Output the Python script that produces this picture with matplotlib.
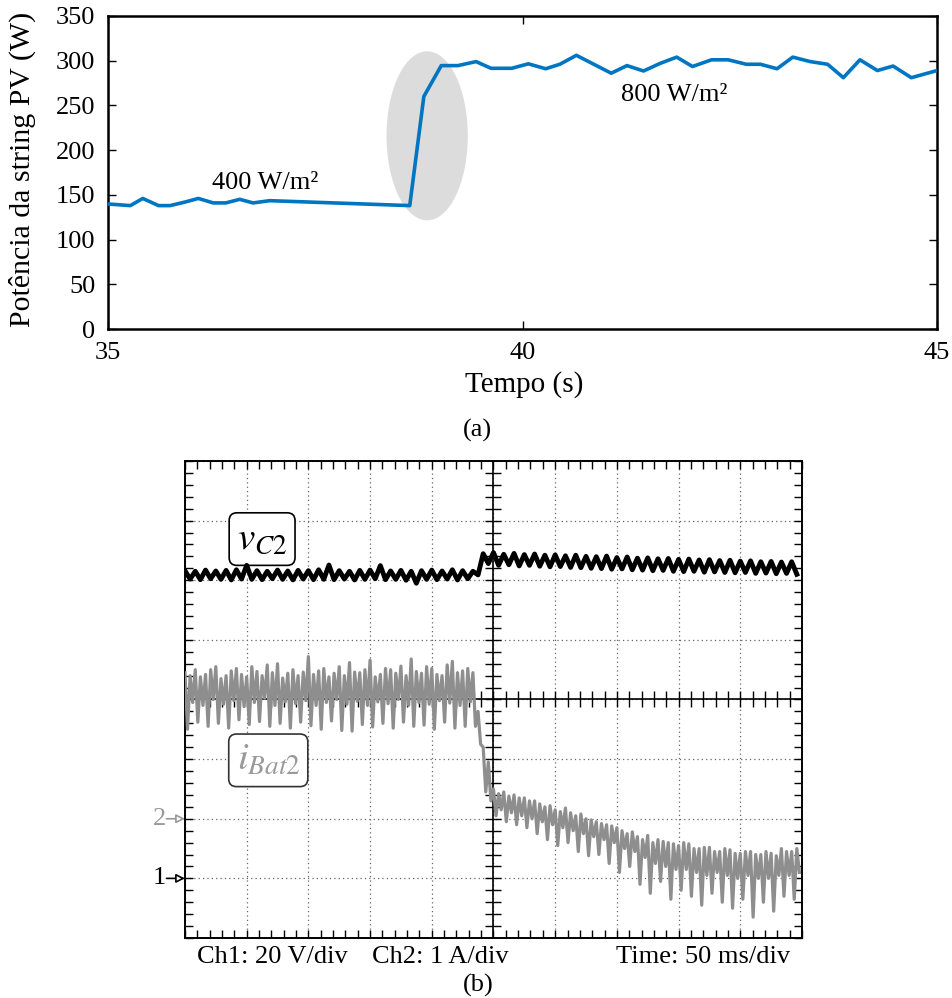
import numpy as np
import matplotlib.pyplot as plt
from matplotlib.patches import Ellipse

plt.rcParams['font.family'] = ['Liberation Serif', 'DejaVu Serif']
plt.rcParams['mathtext.fontset'] = 'stix'

# (a) PV string power
tempo = [35.0, 35.27, 35.42, 35.61, 35.75, 35.93, 36.09, 36.27, 36.42, 36.59,
         36.75, 36.95, 37.11, 38.64, 38.81, 39.02, 39.22, 39.44, 39.62, 39.87,
         40.07, 40.28, 40.45, 40.65, 40.86, 41.07, 41.26, 41.46, 41.66, 41.86,
         42.05, 42.28, 42.48, 42.70, 42.87, 43.07, 43.26, 43.47, 43.68, 43.87,
         44.07, 44.28, 44.47, 44.69, 45.0]
potencia = [139.8, 138, 146, 138, 138, 142, 146, 141, 141, 145,
            141, 143.5, 143, 138, 260, 294.5, 294.5, 299, 291.5, 291.5,
            296.5, 291, 296, 306, 296, 286, 294.5, 288.5, 297, 304,
            293.5, 301, 301, 296, 296, 291, 304, 299, 296, 281,
            301, 289, 294, 281, 289]
yticks_a = [0, 50, 100, 150, 200, 250, 300, 350]
xticks_a = [35, 40, 45]

# (b) oscilloscope traces, 500 ms window
# vC2 in V: (peak, trough) per 120 Hz ripple cycle
vc2 = [103.2, 100.4, 103.0, 100.2, 103.4, 100.5, 103.1, 100.3, 103.3, 100.1,
       103.5, 100.4, 105.0, 100.3, 103.2, 100.2, 103.0, 100.5, 103.4, 100.3,
       103.1, 100.1, 103.3, 100.4, 103.2, 100.2, 103.5, 100.3, 105.1, 100.2,
       103.2, 100.4, 103.0, 100.1, 103.3, 100.3, 103.4, 100.5, 104.9, 100.2,
       103.1, 100.3, 103.3, 100.0, 103.0, 99.0, 103.2, 100.3, 103.4, 100.2,
       103.1, 100.4, 103.5, 100.1, 103.2, 100.5, 103.0, 101.8, 108.9, 105.6,
       109.3, 105.0, 108.7, 105.2, 109.0, 104.8, 108.6, 105.0, 108.8, 104.7,
       108.4, 104.5, 108.5, 104.6, 108.2, 104.3, 108.4, 104.2, 108.0, 104.0,
       107.9, 103.9, 108.1, 103.7, 107.6, 103.8, 107.8, 103.5, 107.4, 103.4,
       107.5, 103.2, 107.2, 103.3, 107.3, 103.0, 107.0, 102.9, 107.1, 103.0,
       106.8, 102.7, 106.9, 102.8, 106.6, 102.6, 106.7, 102.5, 106.4, 102.6,
       106.5, 102.3, 106.2, 102.4, 106.3, 102.2, 106.1, 102.3, 106.2, 102.0]

# iBat2 in A: (high, deep low, high, shallow low) per ripple cycle
ibat2 = [2.45, 1.50, 2.40, 1.95, 2.50, 1.62, 2.38, 1.90,
         2.42, 1.55, 2.50, 2.00, 2.55, 1.60, 2.35, 1.92,
         2.40, 1.52, 2.48, 1.98, 2.52, 1.66, 2.42, 1.88,
         2.38, 1.58, 2.55, 1.95, 2.47, 1.63, 2.40, 2.02,
         2.58, 1.55, 2.45, 1.90, 2.60, 1.60, 2.36, 1.96,
         2.44, 1.52, 2.50, 1.93, 2.40, 1.62, 2.46, 1.98,
         2.72, 1.56, 2.42, 1.90, 2.48, 1.50, 2.52, 1.95,
         2.38, 1.64, 2.44, 2.00, 2.55, 1.48, 2.40, 1.92,
         2.62, 1.47, 2.46, 1.97, 2.45, 1.58, 2.50, 1.90,
         2.66, 1.54, 2.38, 1.96, 2.42, 1.60, 2.52, 1.93,
         2.50, 1.52, 2.44, 2.00, 2.56, 1.62, 2.40, 1.90,
         2.68, 1.55, 2.47, 1.95, 2.44, 1.57, 2.55, 1.92,
         2.52, 1.50, 2.42, 1.98, 2.40, 1.62, 2.58, 1.94,
         2.64, 1.52, 2.45, 1.90, 2.48, 1.55, 2.52, 1.96,
         2.45, 1.55, 1.80, 1.25, 1.20, 0.45, 0.95, 0.30,
         0.50, 0.05, 0.42, 0.15, 0.45, -0.05, 0.38, 0.10,
         0.40, -0.10, 0.35, 0.05, 0.35, -0.15, 0.30, 0.00,
         0.30, -0.25, 0.25, -0.05, 0.20, -0.35, 0.22, -0.10,
         0.15, -0.45, 0.12, -0.15, 0.18, -0.40, 0.10, -0.20,
         0.05, -0.55, 0.08, -0.25, 0.00, -0.62, -0.02, -0.30,
         -0.05, -0.60, -0.08, -0.35, -0.10, -0.75, -0.12, -0.40,
         -0.15, -0.90, -0.20, -0.50, -0.25, -0.80, -0.22, -0.55,
         -0.30, -1.10, -0.35, -0.65, -0.28, -1.25, -0.40, -0.75,
         -0.35, -1.05, -0.38, -0.80, -0.40, -1.35, -0.42, -0.85,
         -0.45, -1.20, -0.40, -0.85, -0.42, -1.30, -0.50, -0.90,
         -0.50, -1.45, -0.48, -0.95, -0.48, -1.25, -0.55, -0.90,
         -0.55, -1.40, -0.50, -0.95, -0.52, -1.50, -0.58, -1.00,
         -0.58, -1.35, -0.55, -0.95, -0.55, -1.65, -0.60, -1.00,
         -0.60, -1.40, -0.55, -1.00, -0.58, -1.55, -0.62, -0.95,
         -0.50, -1.30, -0.55, -0.95, -0.55, -1.35, -0.50, -0.90]

window_ms = 500
ms_div = 50
ch1_vdiv, ch1_ground = 20, -3
ch2_adiv, ch2_ground = 1, -2

fig = plt.figure(figsize=(9.52, 9.98), dpi=100)

# ---------- (a)
ax = fig.add_axes([0.1134, 0.6703, 0.8709, 0.3137])
ax.add_patch(Ellipse((38.85, 216), 0.98, 189, facecolor='#dcdcdc',
                     edgecolor='none', zorder=1))
ax.plot(tempo, potencia, color='#0076c2', lw=2.6, zorder=3)
ax.set_xlim(35, 45)
ax.set_ylim(0, 350)
ax.set_xticks(xticks_a)
ax.set_yticks(yticks_a)
ax.tick_params(direction='in', length=6, width=1, top=True, right=True,
               labelsize=19, pad=9)
for s in ax.spines.values():
    s.set_linewidth(1.8)
ax.text(36.9, 163, '400 W/m²', fontsize=19, ha='center', va='center')
ax.text(41.83, 262, '800 W/m²', fontsize=19, ha='center', va='center')
fig.text(0.5504, 0.615, 'Tempo (s)', fontsize=21, ha='center', va='center')
fig.text(0.023, 0.830, 'Potência da string PV (W)', fontsize=21.5,
         rotation=90, ha='center', va='center')
fig.text(0.502, 0.569, '(a)', fontsize=19, ha='center', va='center')

# ---------- (b)
pos = [0.1943, 0.0601, 0.6481, 0.478]
osc = fig.add_axes(pos)
osc.set_xlim(0, 10)
osc.set_ylim(-4, 4)
osc.set_xticks(np.arange(0, 11, 1))
osc.set_yticks(np.arange(-4, 5, 1))
osc.set_xticks(np.arange(0, 10.01, 0.2), minor=True)
osc.set_yticks(np.arange(-4, 4.01, 0.2), minor=True)
osc.tick_params(which='both', direction='in', length=6, width=1, top=True,
                right=True, labelbottom=False, labelleft=False)
osc.grid(True, which='major', linestyle=(0, (1, 2.5)), color='#666666', lw=0.9)
for s in osc.spines.values():
    s.set_linewidth(1.4)

cross = fig.add_axes(pos)
cross.patch.set_visible(False)
cross.set_xlim(0, 10)
cross.set_ylim(-4, 4)
cross.spines['top'].set_visible(False)
cross.spines['right'].set_visible(False)
cross.spines['left'].set_position(('data', 5))
cross.spines['bottom'].set_position(('data', 0))
cross.spines['left'].set_linewidth(1.2)
cross.spines['bottom'].set_linewidth(1.2)
cross.set_xticks([])
cross.set_yticks([])
cross.set_xticks(np.arange(0.2, 10, 0.2), minor=True)
cross.set_yticks(np.arange(-3.8, 4, 0.2), minor=True)
cross.tick_params(which='minor', direction='inout', length=12, width=1,
                  labelbottom=False, labelleft=False)

t_v = np.arange(len(vc2)) * window_ms / len(vc2)
t_i = np.arange(len(ibat2)) * window_ms / len(ibat2)
cross.plot(t_i / ms_div, np.array(ibat2) / ch2_adiv + ch2_ground,
           color='#8e8e8e', lw=2.3, zorder=3)
cross.plot(t_v / ms_div, np.array(vc2) / ch1_vdiv + ch1_ground,
           color='black', lw=3.5, zorder=4)

cross.text(1.25, 2.69, r'$v_{\mathit{C2}}$', fontsize=28, ha='center',
           va='center',
           bbox=dict(boxstyle='round,pad=0.2', fc='white', ec='black', lw=1.2))
cross.text(1.35, -1.02, r'$i_{\mathit{Bat2}}$', fontsize=28, ha='center',
           va='center', color='#999999',
           bbox=dict(boxstyle='round,pad=0.2', fc='white', ec='#333333', lw=1.2))

for lvl, lab, col in [(ch2_ground, '2', '#999999'), (ch1_ground, '1', 'black')]:
    cross.annotate('', xy=(0, lvl), xytext=(-0.3, lvl), annotation_clip=False,
                   arrowprops=dict(arrowstyle='-|>', fc='white', ec=col, lw=1.2,
                                   mutation_scale=13, shrinkA=0, shrinkB=0))
    cross.text(-0.31, lvl, lab, fontsize=19, color=col, ha='right', va='center')

fig.text(0.207, 0.041, 'Ch1: 20 V/div', fontsize=19, ha='left', va='center')
fig.text(0.391, 0.041, 'Ch2: 1 A/div', fontsize=19, ha='left', va='center')
fig.text(0.830, 0.041, 'Time: 50 ms/div', fontsize=19, ha='right', va='center')
fig.text(0.502, 0.013, '(b)', fontsize=19, ha='center', va='center')

fig.savefig('out.png', dpi=100)
